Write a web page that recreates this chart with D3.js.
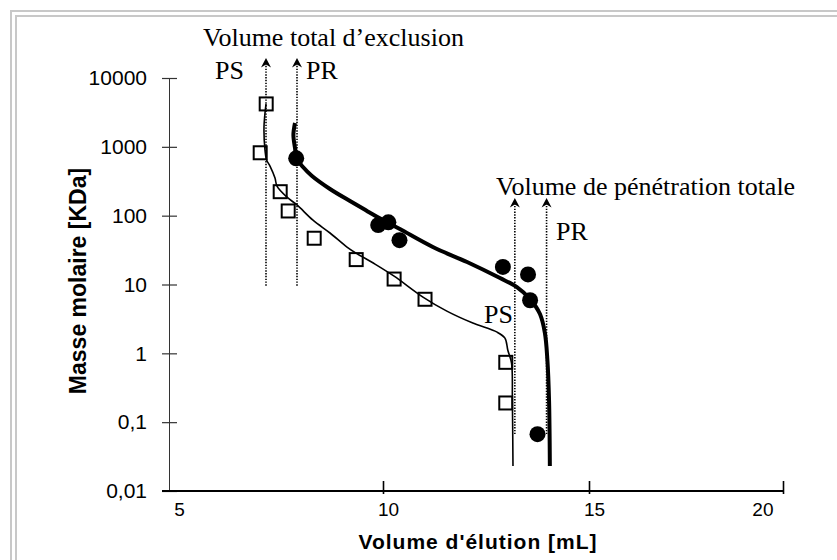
<!DOCTYPE html>
<html>
<head>
<meta charset="utf-8">
<script src="https://cdn.jsdelivr.net/npm/d3@7"></script>
<style>
  html, body { margin: 0; padding: 0; background: #fff; }
  svg { display: block; }
</style>
</head>
<body>
<svg id="chart" width="837" height="560"></svg>
<script>
// ---- data ----
const psVolume = [7.08, 6.93, 7.43, 7.63, 8.28, 9.33, 10.27, 11.02, 12.98, 12.98];
const psMass   = [4200, 820, 223, 117, 47, 23, 12, 6.1, 0.74, 0.19];

const prVolume = [7.83, 9.88, 10.13, 10.40, 12.91, 13.52, 13.57, 13.75];
const prMass   = [680, 73, 80, 44, 18, 14, 5.9, 0.067];

const psFitVolume = [7.075, 7.025, 7.05, 7.09, 7.175, 7.30, 7.35, 7.60, 7.85, 8.25, 8.675, 9.10, 9.325, 9.80, 10.27, 10.97, 11.55, 12.18, 12.77, 12.96, 13.03, 13.12, 13.14, 13.155];
const psFitMass   = [4190, 1940, 898, 643, 526, 352, 269, 186, 143, 86, 56, 35, 28.6, 19.8, 13.2, 6.56, 4.10, 2.75, 2.03, 1.66, 1.11, 0.72, 0.209, 0.023];

const prFitVolume = [7.80, 7.76, 7.80, 7.84, 8.0, 8.225, 8.675, 9.175, 9.60, 10.0, 10.41, 11.21, 12.04, 12.84, 13.25, 13.57, 13.81, 13.93, 13.99, 14.03, 14.05];
const prFitMass   = [2220, 1486, 961, 687, 508, 377, 244, 163, 117, 86.3, 63.8, 35.0, 21.2, 12.4, 9.17, 6.14, 3.72, 1.97, 0.80, 0.209, 0.023];

const exclusionVolumes   = [7.075, 7.85];   // PS, PR
const exclusionRange     = [9.2, 19500];
const penetrationVolumes = [13.2, 13.97];   // PS, PR
const penetrationRange   = [0.065, 180];

const xTicks = [5, 10, 15, 20];
const yTicks = [10000, 1000, 100, 10, 1, 0.1, 0.01];

// ---- scales ----
const svg = d3.select("#chart");
const x = d3.scaleLinear().domain([4.65, 10, 15, 20]).range([169, 383, 589, 783]);
const y = d3.scaleLog().domain([0.01, 10000]).range([491, 78]);

// frame
svg.append("rect").attr("x", 11).attr("y", 11).attr("width", 900).attr("height", 700)
  .attr("fill", "none").attr("stroke", "#c8c8c8").attr("stroke-width", 2);
svg.append("rect").attr("x", 16).attr("y", 16).attr("width", 900).attr("height", 700)
  .attr("fill", "none").attr("stroke", "#c8c8c8").attr("stroke-width", 2);

// ---- y axis ----
const yAxis = svg.append("g").attr("transform", `translate(${x.range()[0]},0)`)
  .call(d3.axisLeft(y).tickValues(yTicks).tickSizeInner(7).tickSizeOuter(0).tickPadding(15)
    .tickFormat(d => String(d).replace(".", ",")));
yAxis.select(".domain").attr("stroke", "#333").attr("stroke-width", 1);
yAxis.selectAll(".tick line").attr("x1", -7).attr("x2", 8).attr("stroke", "#333").attr("stroke-width", 1.2);
yAxis.selectAll(".tick text").attr("font-family", "Liberation Sans, Arial, sans-serif")
  .attr("font-size", 21).attr("fill", "#000");

// ---- x axis ----
const xAxis = svg.append("g").attr("transform", `translate(0,${y.range()[0]})`)
  .call(d3.axisBottom(x).tickValues(xTicks).tickSizeInner(3).tickSizeOuter(0).tickPadding(9));
xAxis.select(".domain").remove();
xAxis.append("line").attr("x1", x.range()[0] - 7).attr("x2", x(20)).attr("y1", 0).attr("y2", 0)
  .attr("stroke", "#000").attr("stroke-width", 2.2);
xAxis.selectAll(".tick line").attr("y1", -10).attr("y2", 3).attr("stroke", "#000").attr("stroke-width", 1.6)
  .attr("display", d => d === xTicks[0] ? "none" : null);
xAxis.selectAll(".tick text").attr("font-family", "Liberation Sans, Arial, sans-serif")
  .attr("font-size", 19).attr("fill", "#000")
  .attr("text-anchor", (d, i) => i === xTicks.length - 1 ? "end" : "middle")
  .attr("dx", (d, i) => i === xTicks.length - 1 ? -10 : (i === 0 ? -4 : 5));

// ---- axis titles ----
svg.append("text").attr("transform", "translate(86,281) rotate(-90)")
  .attr("text-anchor", "middle").attr("font-family", "Liberation Sans, Arial, sans-serif")
  .attr("font-weight", "bold").attr("font-size", 23).text("Masse molaire [KDa]");
svg.append("text").attr("x", 478).attr("y", 549)
  .attr("text-anchor", "middle").attr("font-family", "Liberation Sans, Arial, sans-serif")
  .attr("font-weight", "bold").attr("font-size", 21).attr("letter-spacing", 1)
  .text("Volume d'élution [mL]");

// ---- dotted marker lines with arrows ----
function markerLine(v, range) {
  const top = y(range[1]), bot = y(range[0]);
  svg.append("line").attr("x1", x(v)).attr("x2", x(v)).attr("y1", top + 5).attr("y2", bot)
    .attr("stroke", "#000").attr("stroke-width", 1.6).attr("stroke-dasharray", "1.4,1.4");
  svg.append("path").attr("transform", `translate(${x(v)},${top})`)
    .attr("d", "M0,0 L-5,9.5 L0,6.5 L5,9.5 Z").attr("fill", "#000");
}
exclusionVolumes.forEach(v => markerLine(v, exclusionRange));
penetrationVolumes.forEach(v => markerLine(v, penetrationRange));

// ---- fit curves ----
const line = d3.line().x(d => x(d[0])).y(d => y(d[1])).curve(d3.curveCatmullRom.alpha(0.5));
svg.append("path").datum(d3.zip(psFitVolume, psFitMass)).attr("d", line)
  .attr("fill", "none").attr("stroke", "#000").attr("stroke-width", 1.6);
svg.append("path").datum(d3.zip(prFitVolume, prFitMass)).attr("d", line)
  .attr("fill", "none").attr("stroke", "#000").attr("stroke-width", 4);

// ---- markers ----
const sq = 13;
svg.append("g").selectAll("rect").data(d3.zip(psVolume, psMass)).join("rect")
  .attr("x", d => x(d[0]) - sq / 2).attr("y", d => y(d[1]) - sq / 2)
  .attr("width", sq).attr("height", sq)
  .attr("fill", "none").attr("stroke", "#000").attr("stroke-width", 2);
svg.append("g").selectAll("circle").data(d3.zip(prVolume, prMass)).join("circle")
  .attr("cx", d => x(d[0])).attr("cy", d => y(d[1])).attr("r", 8).attr("fill", "#000");

// ---- annotations ----
const serif = "Liberation Serif, Times New Roman, serif";
function note(txt, px, py) {
  svg.append("text").attr("x", px).attr("y", py).attr("font-family", serif)
    .attr("font-size", 26).attr("fill", "#000").text(txt);
}
note("Volume total d\u2019exclusion", 203, 46);
note("PS", 215, 79);
note("PR", 306, 79);
note("Volume de pénétration totale", 496, 195);
note("PR", 556, 240);
note("PS", 484, 323);
</script>
</body>
</html>
